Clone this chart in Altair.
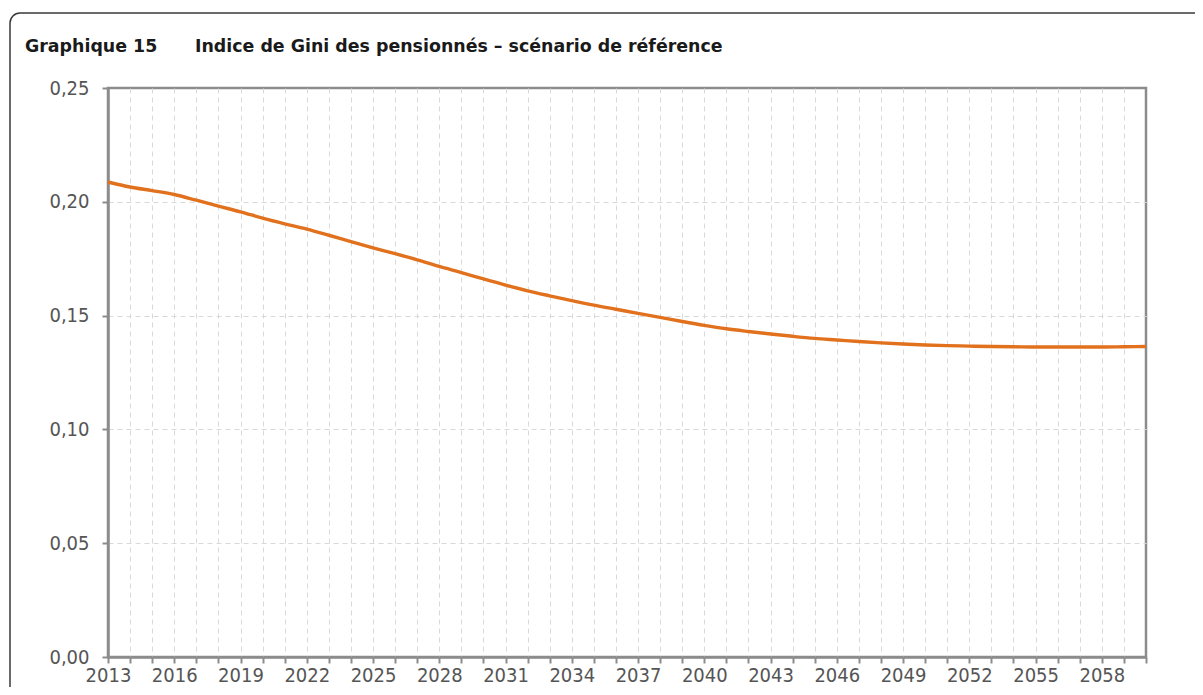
import altair as alt
import pandas as pd

years = list(range(2013, 2061))
gini = [0.2087, 0.2065, 0.2049, 0.2032, 0.2007, 0.1981, 0.1956, 0.1928, 0.1903, 0.1880,
        0.1853, 0.1825, 0.1798, 0.1772, 0.1745, 0.1716, 0.1689, 0.1661, 0.1634, 0.1609,
        0.1587, 0.1566, 0.1546, 0.1528, 0.1510, 0.1492, 0.1474, 0.1457, 0.1442, 0.1430,
        0.1419, 0.1409, 0.1400, 0.1393, 0.1386, 0.1380, 0.1375, 0.1371, 0.1368, 0.1366,
        0.1364, 0.1363, 0.1362, 0.1362, 0.1362, 0.1362, 0.1363, 0.1364]
y_ticks = [0.0, 0.05, 0.10, 0.15, 0.20, 0.25]
title_num = "Graphique 15"
title_txt = "Indice de Gini des pensionnés – scénario de référence"

df = pd.DataFrame({"annee": years, "gini": gini})
one = pd.DataFrame({"k": [0]})

LABEL_FONT = "DejaVu Sans Condensed"
AXIS_GRAY = "#8c8c8c"

line = alt.Chart(df).mark_line(color="#E2711D", strokeWidth=3.4, interpolate="monotone").encode(
    x=alt.X("annee:Q",
            scale=alt.Scale(domain=[2013, 2060], nice=False, zero=False),
            axis=alt.Axis(values=years, title=None, grid=True,
                          gridOpacity={"condition": {"test": "datum.value == 2013 || datum.value == 2060", "value": 0}, "value": 1},
                          labelExpr="(datum.value - 2013) % 3 == 0 ? '' + datum.value : ''",
                          labelFlush=False, labelOverlap=False,
                          tickSize=6, labelPadding=2, labelBaseline="top")),
    y=alt.Y("gini:Q",
            scale=alt.Scale(domain=[0, 0.25], nice=False),
            axis=alt.Axis(values=y_ticks, title=None, grid=True,
                          gridOpacity={"condition": {"test": "datum.value <= 0 || datum.value >= 0.25", "value": 0}, "value": 1},
                          labelExpr="replace(format(datum.value, '.2f'), '.', ',')",
                          tickSize=6, labelPadding=13)),
)

frame = alt.Chart(one).mark_rect(fill=None, fillOpacity=0, stroke="#3a3a3a",
                                 strokeWidth=1.5, cornerRadius=10).encode(
    x=alt.value(-98), x2=alt.value(1130), y=alt.value(-75), y2=alt.value(620))

t1 = alt.Chart(one).mark_text(align="left", baseline="alphabetic", font="DejaVu Sans",
                              fontWeight="bold", fontSize=17.4, color="#1a1a1a").encode(
    x=alt.value(-83), y=alt.value(-36), text=alt.value(title_num))
t2 = alt.Chart(one).mark_text(align="left", baseline="alphabetic", font="DejaVu Sans",
                              fontWeight="bold", fontSize=17.4, color="#1a1a1a").encode(
    x=alt.value(87), y=alt.value(-36), text=alt.value(title_txt))

chart = alt.layer(frame, line, t1, t2).properties(
    width=1038, height=569,
    padding={"left": 100, "top": 80, "right": 49, "bottom": 30},
    autosize=alt.AutoSizeParams(type="none"),
).configure_view(
    stroke=AXIS_GRAY, strokeWidth=2.5
).configure_axis(
    domainColor=AXIS_GRAY, domainWidth=2.5, tickColor=AXIS_GRAY, tickWidth=2,
    gridColor="#d9d9d9", gridDash=[5, 4], gridWidth=1,
    labelFont=LABEL_FONT, labelFontSize=20, labelColor="#555555",
)

chart.save("out.html", embed_options={"renderer": "svg", "actions": False})
